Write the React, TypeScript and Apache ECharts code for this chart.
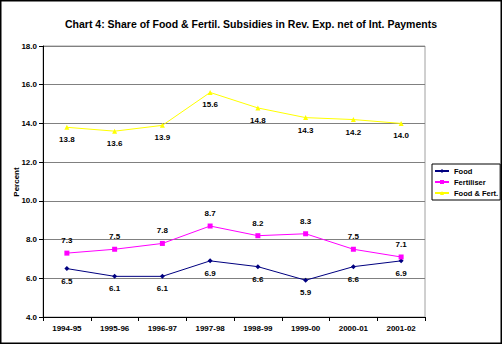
import React, { useEffect, useRef } from "react";
import * as echarts from "echarts";

const categories = ["1994-95", "1995-96", "1996-97", "1997-98", "1998-99", "1999-00", "2000-01", "2001-02"];
const food = [6.5, 6.1, 6.1, 6.9, 6.6, 5.9, 6.6, 6.9];
const fertiliser = [7.3, 7.5, 7.8, 8.7, 8.2, 8.3, 7.5, 7.1];
const foodFert = [13.8, 13.6, 13.9, 15.6, 14.8, 14.3, 14.2, 14.0];
const seriesNames = ["Food", "Fertiliser", "Food & Fert."];
const title = "Chart 4: Share of Food & Fertil. Subsidies in Rev. Exp. net of Int. Payments";

const FONT = "'Liberation Sans', Arial, sans-serif";

export default function App() {
  const ref = useRef<HTMLDivElement>(null);
  useEffect(() => {
    if (!ref.current) return;
    const chart = echarts.init(ref.current, undefined, { renderer: "svg" });
    const labelStyle = { show: true, fontFamily: FONT, fontSize: 8, fontWeight: "bold" as const, color: "#000", formatter: (p: any) => Number(p.value).toFixed(1) };
    chart.setOption({
      animation: false,
      backgroundColor: "#fff",
      title: {
        text: title,
        left: "center",
        top: 13,
        textStyle: { fontFamily: FONT, fontSize: 10.5, fontWeight: "bold", color: "#000" },
      },
      graphic: [
        { type: "rect", shape: { x: 0.75, y: 0.75, width: 500.5, height: 342.5 }, style: { fill: "none", stroke: "#000", lineWidth: 1.5 }, z: 100 },
        { type: "text", x: 16, y: 182, rotation: Math.PI / 2, style: { text: "Percent", fontFamily: FONT, fontSize: 8, fontWeight: "bold", fill: "#000", align: "center", verticalAlign: "middle" } },
      ],
      legend: {
        orient: "vertical",
        left: 432,
        top: 164,
        itemWidth: 14,
        itemHeight: 5,
        itemGap: 3,
        padding: [3, 2, 3, 2],
        borderColor: "#000",
        borderWidth: 1,
        backgroundColor: "#fff",
        textStyle: { fontFamily: FONT, fontSize: 7.5, fontWeight: "bold", color: "#000" },
        data: seriesNames,
      },
      grid: { left: 43, right: 77, top: 46, bottom: 27, show: true, borderColor: "#a0a0a0", borderWidth: 1 },
      xAxis: {
        type: "category",
        data: categories,
        boundaryGap: true,
        axisLine: { lineStyle: { color: "#000", width: 1 } },
        axisTick: { show: true, length: 4, lineStyle: { color: "#000" } },
        axisLabel: { fontFamily: FONT, fontSize: 8, fontWeight: "bold", color: "#000", margin: 7 },
      },
      yAxis: {
        type: "value",
        min: 4,
        max: 18,
        interval: 2,
        axisLine: { show: true, lineStyle: { color: "#000", width: 1 } },
        axisTick: { show: true, length: 4, lineStyle: { color: "#000" } },
        axisLabel: { fontFamily: FONT, fontSize: 8, fontWeight: "bold", color: "#000", margin: 6, formatter: (v: number) => v.toFixed(1) },
        splitLine: { show: true, lineStyle: { color: "#808080", width: 1 } },
      },
      series: [
        {
          name: seriesNames[0], type: "line", data: food, symbol: "diamond", symbolSize: 5,
          lineStyle: { color: "#000080", width: 1 }, itemStyle: { color: "#000080" },
          label: { ...labelStyle, position: "bottom", distance: 6 },
        },
        {
          name: seriesNames[1], type: "line", data: fertiliser, symbol: "rect", symbolSize: 5,
          lineStyle: { color: "#FF00FF", width: 1 }, itemStyle: { color: "#FF00FF" },
          label: { ...labelStyle, position: "top", distance: 6 },
        },
        {
          name: seriesNames[2], type: "line", data: foodFert, symbol: "triangle", symbolSize: 5,
          lineStyle: { color: "#FFFF00", width: 1 }, itemStyle: { color: "#FFFF00" },
          label: { ...labelStyle, position: "bottom", distance: 6 },
        },
      ],
    });
    return () => chart.dispose();
  }, []);
  return <div ref={ref} style={{ position: "absolute", left: 0, top: 0, width: 502, height: 344 }} />;
}
